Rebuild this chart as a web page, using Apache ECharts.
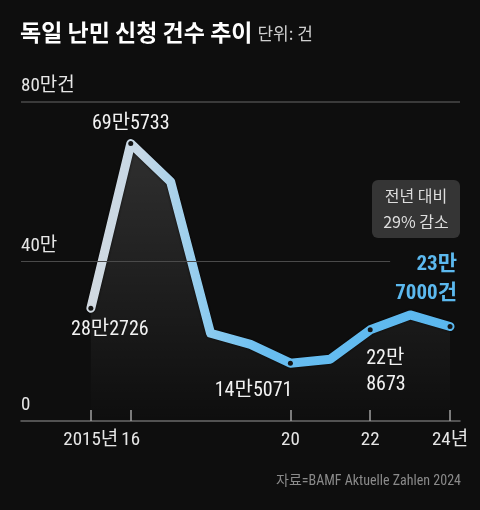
<!DOCTYPE html>
<html>
<head>
<meta charset="utf-8">
<script src="https://cdn.jsdelivr.net/npm/echarts@6/dist/echarts.min.js"></script>
<style>
html,body{margin:0;padding:0;background:#0e0e0e;}
#c{width:480px;height:510px;}
</style>
</head>
<body>
<div id="c"></div>
<script>
// ---- data ----
const years = [2015, 2016, 2017, 2018, 2019, 2020, 2021, 2022, 2023, 2024];
const values = [282726, 695733, 600000, 220000, 192000, 145071, 155000, 228673, 266000, 237000];
const labeledYears = [2015, 2016, 2020, 2022, 2024];
const tickYears = [2015, 2016, 2020, 2022, 2024];
const tickLabels = ['2015년', '16', '20', '22', '24년'];
const yTickLabels = ['0', '40만', '80만건'];

const NARROW = "'Liberation Sans Narrow','Roboto Condensed','Noto Sans CJK KR',sans-serif";
const CJK = "'Noto Sans CJK KR','Noto Sans',sans-serif";

function fmt(v) {
  return Math.floor(v / 10000) + '만' + (v % 10000);
}

// label style per labeled year (layout only)
const labelStyle = {
  2015: { offset: [19, 22], align: 'center' },
  2016: { offset: [0, -20], align: 'center' },
  2020: { offset: [2, 28], align: 'right' },
  2022: { offset: [-4, 42], align: 'left', split: true },
  2024: { offset: [7, -47], align: 'right', split: true, blue: true }
};

const seriesData = years.map((y, i) => {
  const v = values[i];
  if (labeledYears.indexOf(y) < 0) {
    return { value: [y, v], symbol: 'none' };
  }
  const s = labelStyle[y];
  let text = fmt(v);
  if (s.split) text = Math.floor(v / 10000) + '만\n' + (v % 10000);
  if (s.blue) text += '건';
  return {
    value: [y, v],
    label: {
      show: true,
      position: 'inside',
      offset: s.offset,
      align: s.align,
      verticalAlign: 'middle',
      formatter: text,
      color: s.blue ? '#5cb9ef' : '#f2f2f2',
      fontWeight: s.blue ? 'bold' : 'normal',
      fontSize: s.blue ? 21 : 20,
      lineHeight: s.blue ? 29 : 26,
      fontFamily: NARROW
    }
  };
});

const chart = echarts.init(document.getElementById('c'), null, { renderer: 'canvas' });
chart.setOption({
  backgroundColor: '#0e0e0e',
  animation: false,
  title: [
    {
      left: 15, top: 16,
      text: '{a|독일 난민 신청 건수 추이} {b|단위: 건}',
      textStyle: {
        rich: {
          a: { fontSize: 23, fontWeight: 'bold', color: '#ffffff', fontFamily: CJK },
          b: { fontSize: 17, fontWeight: 'normal', color: '#cfcfcf', fontFamily: CJK, padding: [3, 0, 0, 0] }
        }
      }
    },
    {
      right: 14, top: 470,
      text: '자료=BAMF Aktuelle Zahlen 2024',
      textStyle: { fontSize: 14, fontWeight: 'normal', color: '#8a8a8a', fontFamily: NARROW }
    }
  ],
  grid: { left: 21, right: 20, top: 102, bottom: 89 },
  xAxis: {
    type: 'value',
    min: 2013.25,
    max: 2024.25,
    splitLine: { show: false },
    axisLine: { show: true, lineStyle: { color: '#6a6a6a', width: 1.5 } },
    axisTick: {
      show: true, inside: true, length: 11,
      customValues: tickYears,
      lineStyle: { color: '#a0a0a0', width: 1.5 }
    },
    axisLabel: {
      show: true,
      customValues: tickYears,
      margin: 10,
      color: '#e6e6e6',
      fontSize: 19,
      fontFamily: NARROW,
      formatter: v => tickLabels[tickYears.indexOf(v)] || ''
    }
  },
  yAxis: {
    type: 'value',
    min: 0,
    max: 800000,
    interval: 400000,
    splitLine: { show: false },
    axisLine: { show: false },
    axisTick: { show: false },
    axisLabel: {
      inside: true,
      margin: 0,
      align: 'left',
      verticalAlign: 'bottom',
      padding: [0, 0, 6, 0],
      color: '#e6e6e6',
      fontSize: 19,
      fontFamily: NARROW,
      formatter: v => yTickLabels[Math.round(v / 400000)]
    }
  },
  series: [{
    type: 'line',
    data: seriesData,
    symbol: 'circle',
    symbolSize: 5,
    itemStyle: { color: '#141414' },
    lineStyle: {
      width: 9,
      cap: 'round',
      join: 'round',
      shadowColor: 'rgba(0,0,0,0.7)',
      shadowBlur: 3,
      color: new echarts.graphic.LinearGradient(0, 0, 1, 0, [
        { offset: 0, color: '#d2d9e0' },
        { offset: 0.15, color: '#c6d8e6' },
        { offset: 0.33, color: '#8ccbef' },
        { offset: 0.5, color: '#68bdf0' },
        { offset: 1, color: '#5ab7ee' }
      ])
    },
    areaStyle: {
      color: new echarts.graphic.LinearGradient(0, 0, 0, 1, [
        { offset: 0, color: 'rgba(255,255,255,0.20)' },
        { offset: 1, color: 'rgba(255,255,255,0.0)' }
      ])
    },
    markLine: {
      silent: true,
      symbol: 'none',
      label: { show: false },
      data: [
        [{ coord: [2013.25, 800000], lineStyle: { color: '#3a3a3a', width: 2, type: 'solid' } }, { coord: [2024.25, 800000] }],
        [{ coord: [2013.25, 400000], lineStyle: { color: '#4a4a4a', width: 1, type: 'solid' } }, { coord: [2022.5, 400000] }]
      ]
    },
    z: 3
  }],
  graphic: [{
    type: 'group',
    left: 372, top: 180,
    children: [
      { type: 'rect', shape: { x: 0, y: 0, width: 88, height: 58, r: 6 }, style: { fill: '#353535' } },
      {
        type: 'text', x: 44, y: 29,
        style: {
          text: '전년 대비\n29% 감소', align: 'center', verticalAlign: 'middle',
          fontSize: 16, lineHeight: 26, fill: '#dedede', fontFamily: CJK
        }
      }
    ]
  }]
});
</script>
</body>
</html>
